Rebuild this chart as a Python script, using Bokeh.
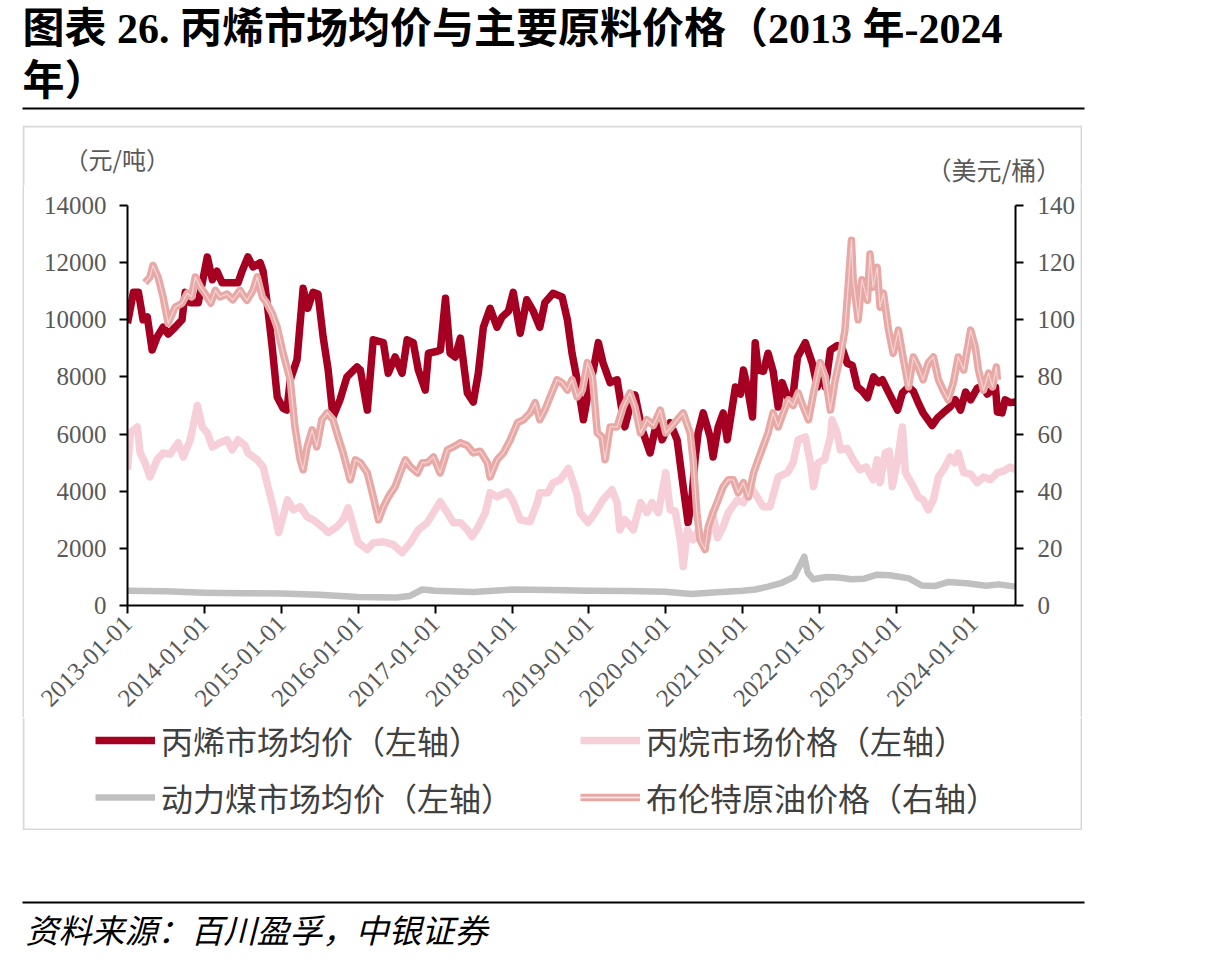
import pandas as pd
from math import pi
from bokeh.plotting import figure
from bokeh.layouts import column, row
from bokeh.models import (Range1d, LinearAxis, FixedTicker, DatetimeTickFormatter, Spacer,
                          Label, BoxAnnotation, Legend, LegendItem, ColumnDataSource)
from bokeh.core.properties import value
from bokeh.embed import file_html
from bokeh.resources import INLINE

# ---------------- data ----------------
propylene_dates = [
    "2013-01-01", "2013-01-29", "2013-02-22", "2013-03-16", "2013-04-05", "2013-04-28", "2013-05-22",
    "2013-06-19", "2013-07-13", "2013-08-15", "2013-09-17", "2013-10-02", "2013-10-25", "2013-12-03",
    "2013-12-22", "2014-01-15", "2014-02-08", "2014-03-02", "2014-03-26", "2014-05-03", "2014-06-10",
    "2014-06-29", "2014-07-27", "2014-08-20", "2014-09-23", "2014-10-07", "2014-10-26", "2014-11-19",
    "2014-12-13", "2015-01-10", "2015-01-28", "2015-02-13", "2015-03-17", "2015-04-15", "2015-05-07",
    "2015-06-01", "2015-06-25", "2015-07-19", "2015-08-12", "2015-09-04", "2015-10-07", "2015-11-09",
    "2015-12-27", "2016-01-12", "2016-02-14", "2016-03-13", "2016-04-30", "2016-05-23", "2016-06-25",
    "2016-07-28", "2016-08-21", "2016-09-19", "2016-10-13", "2016-11-15", "2016-11-30", "2017-01-12",
    "2017-01-26", "2017-02-19", "2017-03-13", "2017-04-06", "2017-05-01", "2017-06-03", "2017-07-01",
    "2017-07-25", "2017-08-18", "2017-09-19", "2017-10-22", "2017-11-15", "2017-12-15", "2018-01-07",
    "2018-02-09", "2018-03-12", "2018-04-12", "2018-05-13", "2018-06-06", "2018-07-15", "2018-08-27",
    "2018-09-21", "2018-10-13", "2018-11-06", "2018-12-06", "2018-12-29", "2019-01-22", "2019-02-15",
    "2019-03-09", "2019-04-12", "2019-05-15", "2019-06-07", "2019-06-21", "2019-07-15", "2019-08-08",
    "2019-09-11", "2019-10-19", "2019-11-21", "2019-12-15", "2020-01-22", "2020-02-24", "2020-03-24",
    "2020-04-16", "2020-05-05", "2020-05-19", "2020-06-03", "2020-06-27", "2020-07-30", "2020-08-13",
    "2020-09-06", "2020-09-30", "2020-10-19", "2020-11-27", "2020-12-21", "2021-01-04", "2021-01-24",
    "2021-02-16", "2021-03-01", "2021-03-15", "2021-04-09", "2021-05-01", "2021-05-25", "2021-06-18",
    "2021-07-07", "2021-08-01", "2021-08-25", "2021-09-18", "2021-10-25", "2021-11-27", "2021-12-21",
    "2022-01-04", "2022-01-28", "2022-02-21", "2022-03-25", "2022-04-18", "2022-05-12", "2022-06-05",
    "2022-06-29", "2022-07-23", "2022-08-16", "2022-09-14", "2022-10-07", "2022-10-26", "2022-11-19",
    "2023-01-06", "2023-01-29", "2023-02-27", "2023-03-22", "2023-04-14", "2023-05-07", "2023-06-19",
    "2023-07-13", "2023-08-10", "2023-09-13", "2023-10-07", "2023-11-01", "2023-11-25", "2023-12-19",
    "2024-01-19", "2024-02-13", "2024-03-07", "2024-04-15", "2024-04-24", "2024-05-16", "2024-05-31",
    "2024-06-24", "2024-07-18",
]
propylene_prices = [
    9880, 10960, 10960, 10000, 10100, 8940, 9400,
    9740, 9500, 9740, 10000, 10960, 10600, 10600,
    11300, 12200, 11400, 11700, 11300, 11300, 11300,
    11700, 12200, 11850, 12000, 11700, 10600, 9050,
    7300, 6900, 6840, 7900, 8600, 11100, 10400,
    10960, 10900, 9400, 8240, 6600, 7200, 8000,
    8350, 8240, 6840, 9300, 9200, 8130, 8700,
    8130, 9300, 9200, 8240, 7540, 8830, 8900,
    8940, 10750, 8830, 8700, 9360, 7440, 7120,
    8130, 9740, 10400, 9740, 10100, 10300, 10960,
    9530, 10700, 10300, 9740, 10600, 10930, 10800,
    10000, 8830, 7900, 6500, 7440, 8240, 9200,
    8500, 7800, 7900, 6840, 6250, 6950, 7370,
    6150, 5340, 6500, 5800, 6400, 5800, 4160,
    2900, 3800, 5100, 6040, 6740, 5900, 5200,
    6250, 6740, 5800, 7650, 7400, 8240, 7600,
    6600, 9200, 8240, 8200, 8830, 8200, 6950,
    7800, 7300, 7200, 8700, 9200, 8480, 7650,
    8480, 7650, 8940, 9100, 9000, 8480, 8400,
    7650, 7500, 7270, 8000, 7800, 7900, 7540,
    6840, 7440, 7650, 7500, 7100, 6740, 6300,
    6550, 6740, 6950, 7200, 6840, 7470, 7200,
    7600, 7700, 7400, 7650, 6770, 6740, 7200,
    7100, 7120,
]

propane_dates = [
    "2013-01-01", "2013-01-15", "2013-02-17", "2013-03-02", "2013-03-25", "2013-04-18", "2013-05-21",
    "2013-06-19", "2013-07-22", "2013-08-30", "2013-09-23", "2013-10-26", "2013-11-29", "2013-12-22",
    "2014-01-15", "2014-02-08", "2014-03-16", "2014-04-19", "2014-05-13", "2014-06-10", "2014-07-13",
    "2014-07-27", "2014-09-09", "2014-10-07", "2014-11-01", "2014-11-25", "2014-12-20", "2015-01-31",
    "2015-02-28", "2015-04-01", "2015-05-04", "2015-06-01", "2015-07-13", "2015-08-12", "2015-09-24",
    "2015-10-22", "2015-11-15", "2015-12-10", "2016-01-01", "2016-02-14", "2016-03-13", "2016-05-01",
    "2016-06-16", "2016-07-28", "2016-09-06", "2016-10-13", "2016-11-25", "2016-12-24", "2017-01-25",
    "2017-02-28", "2017-03-28", "2017-05-01", "2017-06-03", "2017-06-25", "2017-07-25", "2017-08-27",
    "2017-09-19", "2017-10-22", "2017-12-09", "2018-01-07", "2018-02-09", "2018-03-28", "2018-05-01",
    "2018-05-13", "2018-06-21", "2018-07-15", "2018-08-18", "2018-09-25", "2018-10-19", "2018-11-05",
    "2018-11-20", "2018-12-28", "2019-01-31", "2019-03-09", "2019-04-21", "2019-05-15", "2019-05-28",
    "2019-06-21", "2019-07-31", "2019-09-03", "2019-10-04", "2019-10-28", "2019-11-27", "2020-01-01",
    "2020-01-22", "2020-02-15", "2020-03-10", "2020-03-24", "2020-04-13", "2020-05-10", "2020-06-03",
    "2020-07-16", "2020-08-10", "2020-09-03", "2020-09-30", "2020-10-24", "2020-12-06", "2021-01-04",
    "2021-02-06", "2021-03-10", "2021-04-07", "2021-05-10", "2021-06-18", "2021-08-01", "2021-08-28",
    "2021-09-21", "2021-10-25", "2021-11-18", "2021-12-03", "2021-12-25", "2022-01-24", "2022-02-21",
    "2022-03-01", "2022-03-25", "2022-04-09", "2022-05-12", "2022-06-09", "2022-07-12", "2022-08-09",
    "2022-09-12", "2022-10-01", "2022-10-15", "2022-11-09", "2022-11-27", "2022-12-12", "2023-01-06",
    "2023-01-29", "2023-02-12", "2023-03-22", "2023-04-14", "2023-05-07", "2023-06-01", "2023-06-25",
    "2023-07-19", "2023-08-19", "2023-09-13", "2023-10-03", "2023-10-21", "2023-11-16", "2023-12-19",
    "2024-01-19", "2024-02-18", "2024-03-21", "2024-04-24", "2024-05-22", "2024-06-24", "2024-07-18",
]
propane_prices = [
    4750, 6040, 6250, 5340, 5000, 4500, 5100,
    5340, 5300, 5700, 5200, 5800, 7000, 6250,
    6040, 5550, 5700, 5800, 5450, 5800, 5600,
    5340, 5100, 4850, 4100, 3400, 2550, 3700,
    3350, 3460, 3100, 3000, 2760, 2550, 2760,
    3000, 3420, 2760, 2200, 1960, 2200, 2230,
    2130, 1850, 2200, 2650, 2900, 3250, 3630,
    3250, 2900, 2900, 2650, 2410, 2760, 3250,
    3950, 3800, 3980, 3630, 3000, 2930, 3600,
    3950, 3950, 4300, 4400, 4800, 4300, 3900,
    3250, 2900, 3250, 3700, 4050, 3600, 2650,
    3000, 2650, 3600, 3250, 3600, 3250, 4650,
    3350, 3300, 2300, 1360, 2650, 2300, 2600,
    2300, 3250, 2370, 2760, 3250, 3700, 3600,
    4160, 3800, 3460, 3460, 4500, 4650, 5000,
    5800, 5900, 5000, 4160, 5000, 5100, 5900,
    6500, 6040, 5450, 5500, 5100, 4750, 4850,
    4400, 5100, 4300, 5340, 5400, 4160, 5100,
    6250, 4650, 4160, 3800, 3700, 3350, 3700,
    4500, 4850, 5200, 5000, 5340, 4650, 4600,
    4300, 4500, 4400, 4650, 4700, 4850, 4750,
]

coal_dates = [
    "2013-01-01", "2013-07-01", "2014-01-01", "2014-07-01", "2015-01-01", "2015-07-01", "2016-01-01",
    "2016-07-01", "2016-09-01", "2016-11-01", "2017-01-01", "2017-07-01", "2018-01-01", "2018-07-01",
    "2019-01-01", "2019-07-01", "2020-01-01", "2020-05-01", "2020-09-01", "2021-01-01", "2021-03-01",
    "2021-05-01", "2021-07-01", "2021-09-01", "2021-10-20", "2021-11-05", "2021-12-01", "2022-02-01",
    "2022-04-01", "2022-06-01", "2022-08-01", "2022-10-01", "2022-12-01", "2023-03-01", "2023-05-01",
    "2023-07-01", "2023-09-01", "2023-12-01", "2024-03-01", "2024-05-01", "2024-07-18",
]
coal_prices = [
    520, 500, 450, 430, 420, 380, 300,
    280, 330, 560, 520, 470, 560, 540,
    520, 510, 480, 400, 460, 520, 560,
    660, 780, 1000, 1710, 1150, 920, 1000,
    980, 920, 940, 1080, 1060, 950, 700,
    680, 820, 780, 690, 740, 660,
]

brent_dates = [
    "2013-03-25", "2013-04-18", "2013-05-02", "2013-05-26", "2013-06-19", "2013-07-13", "2013-08-15",
    "2013-09-17", "2013-10-12", "2013-11-01", "2013-11-19", "2013-12-13", "2014-01-06", "2014-01-31",
    "2014-02-22", "2014-03-16", "2014-04-19", "2014-05-16", "2014-06-19", "2014-07-22", "2014-08-20",
    "2014-09-09", "2014-10-03", "2014-10-25", "2014-11-19", "2014-12-13", "2015-01-10", "2015-02-13",
    "2015-03-07", "2015-04-01", "2015-04-15", "2015-05-04", "2015-05-28", "2015-06-19", "2015-07-13",
    "2015-08-07", "2015-09-04", "2015-09-28", "2015-10-22", "2015-11-25", "2015-12-19", "2016-01-12",
    "2016-02-14", "2016-03-13", "2016-04-07", "2016-05-01", "2016-05-24", "2016-06-25", "2016-07-19",
    "2016-08-12", "2016-09-06", "2016-10-09", "2016-11-01", "2016-11-25", "2016-12-24", "2017-01-25",
    "2017-02-28", "2017-03-28", "2017-05-01", "2017-06-03", "2017-07-01", "2017-08-03", "2017-09-06",
    "2017-09-19", "2017-10-22", "2017-11-21", "2017-12-24", "2018-01-27", "2018-02-24", "2018-03-28",
    "2018-04-21", "2018-05-13", "2018-06-06", "2018-07-01", "2018-08-03", "2018-08-27", "2018-09-21",
    "2018-10-13", "2018-11-06", "2018-12-01", "2018-12-25", "2019-01-18", "2019-02-10", "2019-03-04",
    "2019-03-19", "2019-04-12", "2019-05-15", "2019-06-13", "2019-07-15", "2019-08-08", "2019-09-03",
    "2019-10-04", "2019-11-03", "2019-12-06", "2020-01-01", "2020-01-22", "2020-02-24", "2020-03-24",
    "2020-04-26", "2020-05-10", "2020-05-28", "2020-06-12", "2020-07-06", "2020-07-21", "2020-08-13",
    "2020-09-06", "2020-09-30", "2020-10-24", "2020-11-17", "2020-12-10", "2021-01-04", "2021-01-28",
    "2021-02-21", "2021-03-15", "2021-04-07", "2021-05-01", "2021-05-25", "2021-06-18", "2021-07-12",
    "2021-08-06", "2021-08-28", "2021-09-21", "2021-10-15", "2021-11-09", "2021-12-03", "2022-01-04",
    "2022-01-28", "2022-02-21", "2022-03-16", "2022-04-09", "2022-05-01", "2022-05-16", "2022-06-01",
    "2022-06-09", "2022-07-03", "2022-07-21", "2022-08-16", "2022-08-28", "2022-09-12", "2022-10-01",
    "2022-10-15", "2022-10-31", "2022-11-24", "2022-12-16", "2023-01-10", "2023-02-03", "2023-02-27",
    "2023-03-22", "2023-04-14", "2023-05-07", "2023-06-01", "2023-06-25", "2023-07-19", "2023-08-10",
    "2023-09-03", "2023-09-28", "2023-10-21", "2023-11-16", "2023-12-19", "2024-01-10", "2024-01-25",
    "2024-02-18", "2024-03-13", "2024-04-01", "2024-04-19", "2024-04-24",
]
brent_prices = [
    113, 115, 119, 115, 108, 98.8, 104.4,
    105.8, 109.3, 108, 115, 111.4, 109, 105.8,
    110.3, 108, 109, 107, 110.3, 106.8, 110.3,
    115, 108, 105.8, 102.3, 97.4, 88.3, 78.9,
    62.5, 51, 47.5, 55.5, 61.5, 55.5, 65,
    67.4, 65, 59, 53.4, 44, 51, 50,
    46.4, 38, 30, 34.6, 38, 41.6, 46.4,
    51, 48.5, 46.4, 50, 50, 52, 46.4,
    54.5, 55.5, 57, 56, 53.4, 54, 50,
    45, 51, 53.4, 58, 64, 65, 67.4,
    71, 65, 68.4, 73, 79, 78, 75.4,
    79, 73, 75.4, 85, 80, 60.4, 59,
    51, 62.5, 62.5, 69.5, 74.4, 69.5, 60.4,
    65, 63, 68.4, 60.4, 62, 65, 67.4,
    60.4, 51, 32.5, 23, 19.6, 27.6, 32.5,
    37, 41.6, 44, 44, 39.5, 43, 38,
    46.4, 51, 55.5, 60.4, 67.4, 62.5, 67.4,
    72, 70, 74.4, 69.5, 65, 74.4, 85,
    80, 68.4, 79, 87, 96.4, 111.4, 127.8,
    114, 100, 114, 106.8, 123, 111.4, 118.4,
    104.4, 109.3, 96.4, 88.3, 96.4, 86, 76.5,
    87, 83.5, 79, 85, 87, 79, 75.4,
    72, 78, 87, 82.4, 96.4, 90.4, 82.4,
    75.4, 81.3, 76.5, 83.5, 79,
]

tick_years = [f"{y}-01-01" for y in range(2013, 2025)]
left_ticks = [0, 2000, 4000, 6000, 8000, 10000, 12000, 14000]
right_ticks = [0, 20, 40, 60, 80, 100, 120, 140]

title_line1 = "图表 26. 丙烯市场均价与主要原料价格（2013 年-2024"
title_line2 = "年）"
source_text = "资料来源：百川盈孚，中银证券"
left_unit = "（元/吨）"
right_unit = "（美元/桶）"
names = ["丙烯市场均价（左轴）", "丙烷市场价格（左轴）", "动力煤市场均价（左轴）", "布伦特原油价格（右轴）"]

# colours / fonts
C_PROP, C_PANE, C_COAL, C_BRENT = "#A50021", "#F6CFD8", "#C0C0C0", "#E8A9A6"
C_BOX = "#D9D9D9"
TICK_FONT = "Liberation Serif"
CJK = "Noto Sans CJK SC"
GRAY = "#595959"

# ---------------- page geometry (page pixels) ----------------
W, H = 1209, 960
BOX_L, BOX_R, BOX_T, BOX_B = 22, 1082, 125, 830
EDGE = 2                               # grey box line thickness
HEAD_B = 185                           # bottom of unit-label strip
FRAME_L, FRAME_R, FRAME_T, FRAME_B = 127, 1015, 205, 606
CHART_B = 717                          # bottom of chart canvas
BOX_W = BOX_R - BOX_L


def text_fig(width, height, bg="white"):
    f = figure(width=width, height=height, output_backend="svg", toolbar_location=None,
               x_range=Range1d(0, 1), y_range=Range1d(0, 1), title=None,
               x_axis_location=None, y_axis_location=None,
               min_border_left=0, min_border_right=0, min_border_top=0, min_border_bottom=0,
               frame_align=False)
    f.outline_line_color = None
    f.xgrid.visible = False
    f.ygrid.visible = False
    f.background_fill_color = bg
    f.border_fill_color = bg
    return f


def put_label(f, left, bottom, text, X, Y, size, color="black", font=CJK, style="normal"):
    f.add_layout(Label(x=X - left, y=bottom - Y, x_units="screen", y_units="screen", text=text,
                       text_font=font, text_font_size=size, text_color=color,
                       text_font_style=style, text_align="left", text_baseline="middle"))


def put_rect(f, left, bottom, L, R, T, B, color="black"):
    f.add_layout(BoxAnnotation(left=L - left, right=R - left, top=bottom - T, bottom=bottom - B,
                               left_units="screen", right_units="screen",
                               top_units="screen", bottom_units="screen",
                               fill_color=color, fill_alpha=1, line_color=None))


# ---------------- title strip ----------------
f_title = text_fig(W, BOX_T)
put_label(f_title, 0, BOX_T, title_line1, 22, 28, "42px", "black", "Liberation Serif, Noto Sans CJK SC", "bold")
put_label(f_title, 0, BOX_T, title_line2, 22, 80, "42px", "black", "Liberation Serif, Noto Sans CJK SC", "bold")
put_rect(f_title, 0, BOX_T, 22, 1084, 107, 109)

# ---------------- header strip inside the box (unit labels) ----------------
f_head = text_fig(BOX_W, HEAD_B - BOX_T)
put_rect(f_head, BOX_L, HEAD_B, BOX_L, BOX_R, BOX_T, BOX_T + EDGE, C_BOX)
put_rect(f_head, BOX_L, HEAD_B, BOX_L, BOX_L + EDGE, BOX_T, HEAD_B, C_BOX)
put_rect(f_head, BOX_L, HEAD_B, BOX_R - EDGE, BOX_R, BOX_T, HEAD_B, C_BOX)
put_label(f_head, BOX_L, HEAD_B, left_unit, 64, 158, "24px", GRAY)
put_label(f_head, BOX_L, HEAD_B, right_unit, 926, 168, "25px", GRAY)

# ---------------- chart ----------------
CH_L, CH_R = BOX_L + EDGE, BOX_R - EDGE
p = figure(width=CH_R - CH_L, height=CHART_B - HEAD_B, x_axis_type="datetime", output_backend="svg",
           toolbar_location=None, title=None, frame_align=False,
           x_range=Range1d(pd.Timestamp("2013-01-01"), pd.Timestamp("2024-07-19")),
           y_range=Range1d(0, 14000),
           min_border_left=FRAME_L - CH_L, min_border_right=CH_R - FRAME_R,
           min_border_top=FRAME_T - HEAD_B, min_border_bottom=CHART_B - FRAME_B)
p.outline_line_color = None
p.xgrid.visible = False
p.ygrid.visible = False
p.background_fill_color = "white"
p.border_fill_color = "white"
p.extra_y_ranges = {"right": Range1d(0, 140)}


def style_axis(ax, size):
    ax.axis_line_color = "black"
    ax.axis_line_width = 2
    ax.major_tick_line_color = "black"
    ax.major_tick_line_width = 2
    ax.major_tick_out = 8
    ax.major_tick_in = 0
    ax.minor_tick_line_color = None
    ax.major_label_text_font = TICK_FONT
    ax.major_label_text_font_size = size
    ax.major_label_text_color = GRAY


tick_ms = [pd.Timestamp(t).value / 1e6 for t in tick_years]
xa = p.xaxis[0]
xa.ticker = FixedTicker(ticks=tick_ms)
xa.formatter = DatetimeTickFormatter(years="%Y-%m-%d", months="%Y-%m-%d", days="%Y-%m-%d")
xa.major_label_overrides = {ms: t for ms, t in zip(tick_ms, tick_years)}
xa.major_label_orientation = pi / 4
xa.major_label_standoff = 6
style_axis(xa, "25px")

ya = p.yaxis[0]
ya.ticker = FixedTicker(ticks=left_ticks)
ya.major_label_standoff = 13
style_axis(ya, "25px")

yr = LinearAxis(y_range_name="right", ticker=FixedTicker(ticks=right_ticks))
yr.major_label_standoff = 14
style_axis(yr, "25px")
p.add_layout(yr, "right")

s_prop = ColumnDataSource(dict(x=pd.to_datetime(propylene_dates), y=propylene_prices))
s_pane = ColumnDataSource(dict(x=pd.to_datetime(propane_dates), y=propane_prices))
s_coal = ColumnDataSource(dict(x=pd.to_datetime(coal_dates), y=coal_prices))
s_brent = ColumnDataSource(dict(x=pd.to_datetime(brent_dates), y=brent_prices))

LW = 7.5
p.line("x", "y", source=s_prop, line_color=C_PROP, line_width=LW, line_join="round")
p.line("x", "y", source=s_pane, line_color=C_PANE, line_width=LW, line_join="round")
p.line("x", "y", source=s_coal, line_color=C_COAL, line_width=6.5, line_join="round")
p.line("x", "y", source=s_brent, y_range_name="right", line_color=C_BRENT, line_width=LW, line_join="round")
p.line("x", "y", source=s_brent, y_range_name="right", line_color="white", line_width=1.2,
       line_alpha=0.5, line_join="round")

# vertical grey box edges beside the chart
v_left = text_fig(EDGE, CHART_B - HEAD_B, C_BOX)
v_right = text_fig(EDGE, CHART_B - HEAD_B, C_BOX)

# ---------------- legend strip inside the box ----------------
f_leg = text_fig(BOX_W, BOX_B - CHART_B)
put_rect(f_leg, BOX_L, BOX_B, BOX_L, BOX_L + EDGE, CHART_B, BOX_B, C_BOX)
put_rect(f_leg, BOX_L, BOX_B, BOX_R - EDGE, BOX_R, CHART_B, BOX_B, C_BOX)
put_rect(f_leg, BOX_L, BOX_B, BOX_L, BOX_R, BOX_B - EDGE, BOX_B, C_BOX)
# legend key renderers (one point each, outside the strip's view; only their style is used)
kx, ky = [-5], [-5]
k_prop = f_leg.line(kx, ky, line_color=C_PROP, line_width=LW)
k_pane = f_leg.line(kx, ky, line_color=C_PANE, line_width=LW)
k_coal = f_leg.line(kx, ky, line_color=C_COAL, line_width=6.5)
k_brent = f_leg.line(kx, ky, line_color=C_BRENT, line_width=LW)
k_brent2 = f_leg.line(kx, ky, line_color="white", line_width=1.6, line_alpha=0.9)


def add_legend(text, renderers, X, Yc):
    h = 40
    lg = Legend(items=[LegendItem(label=value(text), renderers=renderers, index=0)],
                location=(X - BOX_L, BOX_B - (Yc + h / 2)), orientation="horizontal",
                padding=0, margin=0, border_line_color=None, background_fill_alpha=0,
                glyph_width=60, glyph_height=h, label_height=h, label_standoff=6,
                label_text_font=CJK, label_text_font_size="32px", label_text_color="#404040")
    f_leg.add_layout(lg)


add_legend(names[0], [k_prop], 95, 743)
add_legend(names[1], [k_pane], 580, 743)
add_legend(names[2], [k_coal], 95, 800)
add_legend(names[3], [k_brent, k_brent2], 580, 800)

# ---------------- source strip ----------------
f_src = text_fig(W, H - BOX_B)
put_rect(f_src, 0, H, 22, 1084, 901, 903)
put_label(f_src, 0, H, source_text, 25, 928, "33px", "black", CJK, "italic")

# ---------------- page ----------------
box_col = column(f_head, row(v_left, p, v_right, spacing=0), f_leg, spacing=0)
page = column(f_title, row(Spacer(width=BOX_L, height=BOX_B - BOX_T), box_col, spacing=0),
              f_src, spacing=0)

open("out.html", "w").write(file_html(page, INLINE))
